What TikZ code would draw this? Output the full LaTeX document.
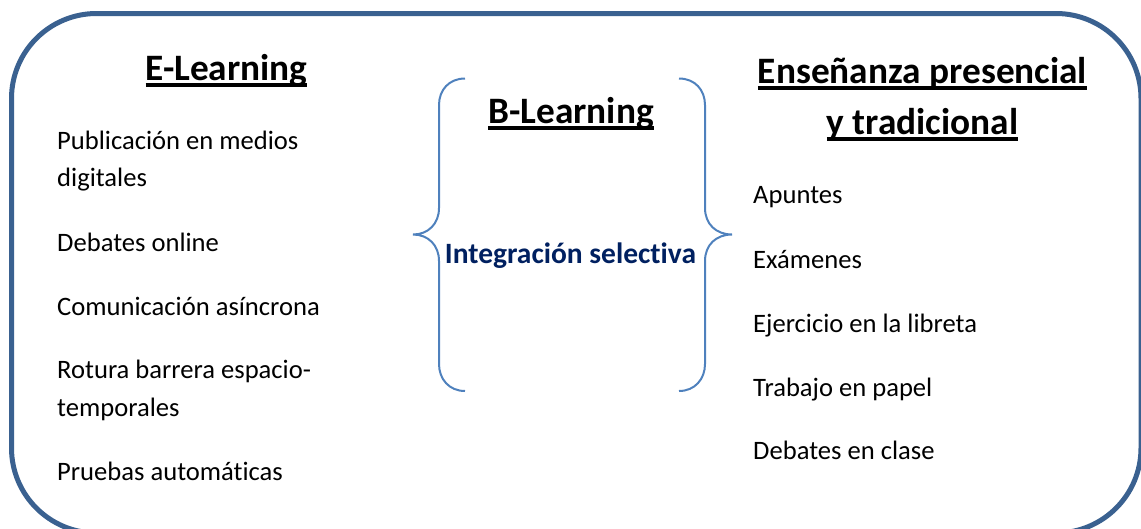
\documentclass[tikz,border=0pt]{standalone}
\usepackage{fontspec}
\setmainfont[Ligatures=NoCommon]{Carlito}
\definecolor{framecol}{HTML}{3A6190}
\definecolor{bracecol}{HTML}{4F81BD}
\definecolor{navy}{HTML}{002060}
\newcommand\ulhead[1]{\setbox0\hbox{#1}\rlap{\rule[-6.5pt]{\wd0}{3.8pt}}\box0}
\tikzset{
  framebox/.style={draw=framecol,line width=5pt,rounded corners=85pt},
  bracepath/.style={draw=bracecol,line width=2pt},
  body/.style={anchor=base west,inner sep=0pt,font=\fontsize{26.6pt}{30pt}\selectfont},
  head/.style={anchor=base,inner sep=0pt,font=\fontsize{37.3pt}{42pt}\selectfont\bfseries},
  mid/.style={anchor=base,inner sep=0pt,text=navy,font=\fontsize{29.5pt}{34pt}\selectfont\bfseries}
}
\begin{document}
\begin{tikzpicture}[x=1pt,y=-1pt]
\useasboundingbox (0,0) rectangle (1141,528);
\clip (0,0) rectangle (1141,528);
\draw[framebox] (11.5,13.5) rectangle (1141,533);

\node[head] (el) at (226.5,80) {\ulhead{E-Learning}};
\node[head] (bl) at (571,123) {\ulhead{B-Learning}};
\node[head] (en) at (922.5,83) {\ulhead{Enseñanza presencial}};
\node[head] (yt) at (922.5,134) {\ulhead{y tradicional}};
\node[mid] (is) at (570.5,263) {Integración selectiva};

\node[body] (a1) at (57,149) {Publicación en medios};
\node[body] (a2) at (57,186) {digitales};
\node[body] (a3) at (57,251) {Debates online};
\node[body] (a4) at (57,315) {Comunicación asíncrona};
\node[body] (a5) at (57,378) {Rotura barrera espacio-};
\node[body] (a6) at (57,416) {temporales};
\node[body] (a7) at (57,480) {Pruebas automáticas};

\node[body] (b1) at (753,203) {Apuntes};
\node[body] (b2) at (753,268) {Exámenes};
\node[body] (b3) at (753,332) {Ejercicio en la libreta};
\node[body] (b4) at (753,396) {Trabajo en papel};
\node[body] (b5) at (753,459) {Debates en clase};

% left brace
\draw[bracepath] (465,78.5) .. controls (449,78.5) and (439,90) .. (439,105)
  -- (439,208) .. controls (439,224) and (428,234.5) .. (413,234.5)
  .. controls (428,234.5) and (439,245) .. (439,261)
  -- (439,364) .. controls (439,379) and (449,391) .. (465,391);
% right brace
\draw[bracepath] (679,78.5) .. controls (695,78.5) and (705,90) .. (705,105)
  -- (705,208) .. controls (705,224) and (716,234.5) .. (732,234.5)
  .. controls (716,234.5) and (705,245) .. (705,261)
  -- (705,364) .. controls (705,379) and (695,391) .. (679,391);
\end{tikzpicture}
\end{document}
